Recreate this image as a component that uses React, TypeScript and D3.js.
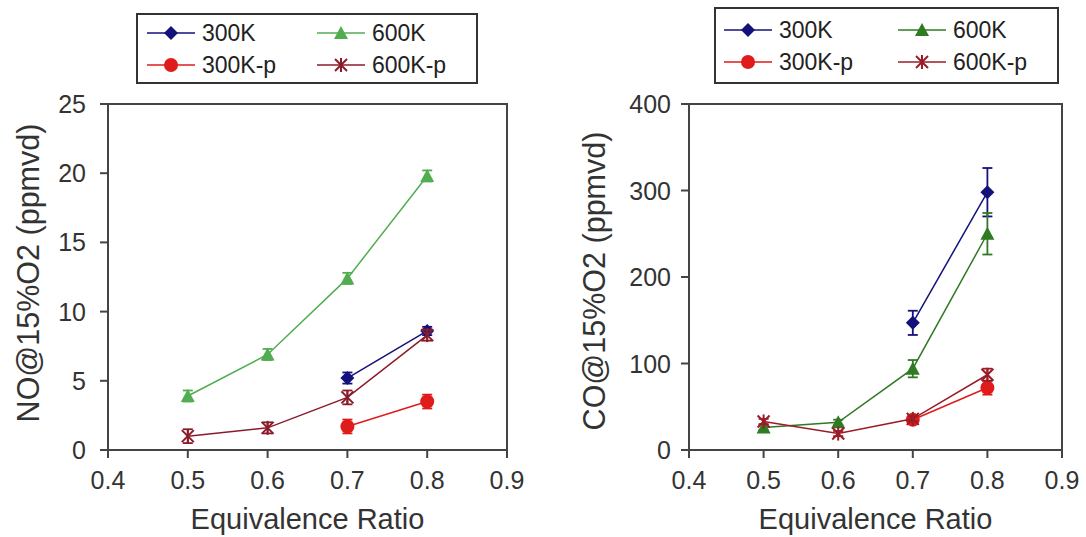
import React from 'react';
import * as d3 from 'd3';

const phi = [0.5, 0.6, 0.7, 0.8];
const xTicks = [0.4, 0.5, 0.6, 0.7, 0.8, 0.9];

// NO panel
const no300K = [null, null, 5.2, 8.6];
const no300KErr = [0, 0, 0.4, 0.3];
const no600K = [3.9, 6.9, 12.4, 19.8];
const no600KErr = [0.4, 0.4, 0.4, 0.4];
const no300Kp = [null, null, 1.7, 3.5];
const no300KpErr = [0, 0, 0.5, 0.5];
const no600Kp = [1.0, 1.6, 3.8, 8.3];
const no600KpErr = [0.5, 0.4, 0.5, 0.4];
const noTicks = [0, 5, 10, 15, 20, 25];

// CO panel
const co300K = [null, null, 147, 298];
const co300KErr = [0, 0, 14, 28];
const co600K = [26, 32, 94, 250];
const co600KErr = [3, 3, 10, 24];
const co300Kp = [null, null, 35, 72];
const co300KpErr = [0, 0, 4, 8];
const co600Kp = [33, 19, 36, 87];
const co600KpErr = [3, 3, 3, 7];
const coTicks = [0, 100, 200, 300, 400];

const seriesNames = ['300K', '600K', '300K-p', '600K-p'];
const markers = ['diamond', 'triangle', 'circle', 'star'];

type Series = { name: string; vals: (number | null)[]; err: number[]; color: string; marker: string };

const FONT = 'Liberation Sans, Arial, sans-serif';
const AX = '#444';

const Marker = ({ type, x, y, color }: { type: string; x: number; y: number; color: string }) => {
  if (type === 'diamond')
    return <path d={`M${x},${y - 7}L${x + 7},${y}L${x},${y + 7}L${x - 7},${y}Z`} fill={color} />;
  if (type === 'triangle')
    return <path d={`M${x},${y - 7}L${x + 7},${y + 6}L${x - 7},${y + 6}Z`} fill={color} />;
  if (type === 'circle') return <circle cx={x} cy={y} r={7} fill={color} />;
  return (
    <g stroke={color} strokeWidth={2}>
      <line x1={x - 6} y1={y - 6} x2={x + 6} y2={y + 6} />
      <line x1={x - 6} y1={y + 6} x2={x + 6} y2={y - 6} />
      <line x1={x} y1={y - 7} x2={x} y2={y + 7} />
    </g>
  );
};

const Panel = (props: {
  left: number; right: number; top: number; bottom: number;
  yMax: number; yTicks: number[]; series: Series[]; yTitle: string; titleX: number; titleY: number;
  labelGap: number;
  legend: { x0: number; y0: number; w: number; h: number; cols: number[]; rows: number[] };
}) => {
  const { left, right, top, bottom, yMax, yTicks, series, yTitle, titleX, titleY, labelGap, legend } = props;
  const x = d3.scaleLinear().domain([0.4, 0.9]).range([left, right]);
  const y = d3.scaleLinear().domain([0, yMax]).range([bottom, top]);
  const line = d3
    .line<[number, number | null]>()
    .defined(d => d[1] != null)
    .x(d => x(d[0]))
    .y(d => y(d[1] as number));
  return (
    <g fontFamily={FONT}>
      {/* legend */}
      <rect x={legend.x0} y={legend.y0} width={legend.w} height={legend.h} fill="white" stroke="#333" strokeWidth={2} />
      {series.map((s, i) => {
        const cx = legend.cols[i % 2];
        const cy = legend.rows[Math.floor(i / 2)];
        return (
          <g key={s.name}>
            <line x1={cx - 24} x2={cx + 24} y1={cy} y2={cy} stroke={s.color} strokeWidth={1.5} />
            <Marker type={s.marker} x={cx} y={cy} color={s.color} />
            <text x={cx + 31} y={cy + 8} fontSize={23} fill="#222">{s.name}</text>
          </g>
        );
      })}
      {/* frame */}
      <rect x={left} y={top} width={right - left} height={bottom - top} fill="none" stroke={AX} strokeWidth={2} />
      {yTicks.map(t => (
        <g key={t}>
          <line x1={left - 8} x2={left} y1={y(t)} y2={y(t)} stroke={AX} strokeWidth={2} />
          <text x={left - labelGap} y={y(t) + 9} fontSize={25} textAnchor="end" fill="#333">{t}</text>
        </g>
      ))}
      {xTicks.map(t => (
        <g key={t}>
          <line x1={x(t)} x2={x(t)} y1={bottom} y2={bottom + 8} stroke={AX} strokeWidth={2} />
          <text x={x(t)} y={bottom + 39} fontSize={25} textAnchor="middle" fill="#333">{t.toFixed(1)}</text>
        </g>
      ))}
      <text x={(left + right) / 2} y={bottom + 79} fontSize={29} textAnchor="middle" fill="#333">Equivalence Ratio</text>
      <text
        transform={`translate(${titleX},${titleY}) rotate(-90)`}
        fontSize={30.5}
        textAnchor="middle"
        fill="#333"
        dy="0.35em"
      >
        {yTitle}
      </text>
      {series.map(s => {
        const pts = phi.map((p, i) => [p, s.vals[i]] as [number, number | null]);
        return (
          <g key={s.name}>
            <path d={line(pts) || ''} fill="none" stroke={s.color} strokeWidth={1.5} />
            {pts.map(([p, v], i) =>
              v == null ? null : (
                <g key={i}>
                  <g stroke={s.color} strokeWidth={1.8}>
                    <line x1={x(p)} x2={x(p)} y1={y(v - s.err[i])} y2={y(v + s.err[i])} />
                    <line x1={x(p) - 5} x2={x(p) + 5} y1={y(v - s.err[i])} y2={y(v - s.err[i])} />
                    <line x1={x(p) - 5} x2={x(p) + 5} y1={y(v + s.err[i])} y2={y(v + s.err[i])} />
                  </g>
                  <Marker type={s.marker} x={x(p)} y={y(v)} color={s.color} />
                </g>
              ),
            )}
          </g>
        );
      })}
    </g>
  );
};

export default function App() {
  const leftColors = ['#14127a', '#52ad52', '#e01b1b', '#8a1c2a'];
  const rightColors = ['#14127a', '#2f7a22', '#e01b1b', '#9a1c26'];
  const noSeries: Series[] = [
    { name: seriesNames[0], vals: no300K, err: no300KErr, color: leftColors[0], marker: markers[0] },
    { name: seriesNames[1], vals: no600K, err: no600KErr, color: leftColors[1], marker: markers[1] },
    { name: seriesNames[2], vals: no300Kp, err: no300KpErr, color: leftColors[2], marker: markers[2] },
    { name: seriesNames[3], vals: no600Kp, err: no600KpErr, color: leftColors[3], marker: markers[3] },
  ];
  const coSeries: Series[] = [
    { name: seriesNames[0], vals: co300K, err: co300KErr, color: rightColors[0], marker: markers[0] },
    { name: seriesNames[1], vals: co600K, err: co600KErr, color: rightColors[1], marker: markers[1] },
    { name: seriesNames[2], vals: co300Kp, err: co300KpErr, color: rightColors[2], marker: markers[2] },
    { name: seriesNames[3], vals: co600Kp, err: co600KpErr, color: rightColors[3], marker: markers[3] },
  ];
  return (
    <svg width={1086} height={537} style={{ position: 'absolute', left: 0, top: 0, background: 'white' }}>
      <Panel
        left={108} right={507} top={104} bottom={450} yMax={25} yTicks={noTicks}
        series={noSeries} yTitle="NO@15%O2 (ppmvd)" titleX={28} titleY={273} labelGap={22}
        legend={{ x0: 137, y0: 14, w: 340, h: 69, cols: [171, 341], rows: [33, 65] }}
      />
      <Panel
        left={689} right={1062} top={104} bottom={450} yMax={400} yTicks={coTicks}
        series={coSeries} yTitle="CO@15%O2 (ppmvd)" titleX={594} titleY={281} labelGap={18}
        legend={{ x0: 715, y0: 8, w: 343, h: 75, cols: [748, 922], rows: [30, 62] }}
      />
    </svg>
  );
}
